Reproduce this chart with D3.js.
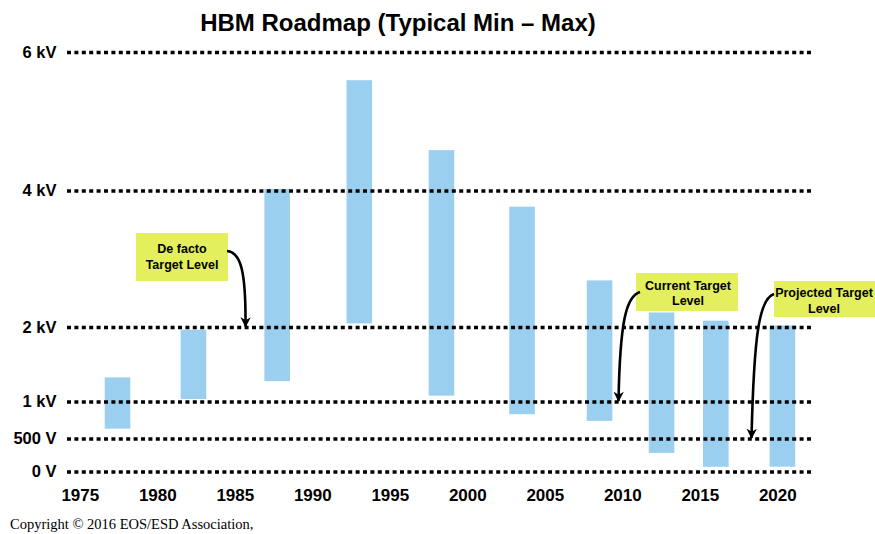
<!DOCTYPE html>
<html>
<head>
<meta charset="utf-8">
<script src="https://cdn.jsdelivr.net/npm/d3@7"></script>
<style>
  html, body { margin: 0; padding: 0; background: #fff; }
  svg { display: block; }
</style>
</head>
<body>
<div id="chart"></div>
<script>
// ---- data ----
const barYears = [1977.4, 1982.3, 1987.7, 1993.0, 1998.3, 2003.5, 2008.5, 2012.5, 2016.0, 2020.3];
const barMin   = [640, 1040, 1280, 2060, 1085, 835, 745, 290, 80, 80];
const barMax   = [1330, 1970, 4030, 5600, 4590, 3770, 2690, 2220, 2100, 2030];
const yTickValues = [0, 500, 1000, 2000, 4000, 6000];
const yTickLabels = ["0 V", "500 V", "1 kV", "2 kV", "4 kV", "6 kV"];
const xTickValues = [1975, 1980, 1985, 1990, 1995, 2000, 2005, 2010, 2015, 2020];
const titleText = "HBM Roadmap (Typical Min \u2013 Max)";
const copyrightText = "Copyright \u00a9 2016 EOS/ESD Association,";
const noteLines = [["De facto", "Target Level"], ["Current Target", "Level"], ["Projected Target", "Level"]];
const noteTargets = [2000, 1000, 500];

// ---- layout ----
const W = 875, H = 534;
const svg = d3.select("#chart").append("svg").attr("width", W).attr("height", H);

const x = d3.scaleLinear().domain([1975, 2020]).range([80.3, 777.8]);
// piecewise (non-uniform) voltage axis, as in the reference
const y = d3.scaleLinear().domain(yTickValues).range([472, 439, 402, 327.5, 191, 52.5]);

const barW = x(1.65) - x(0);

// title
svg.append("text")
  .attr("x", 398).attr("y", 31)
  .attr("text-anchor", "middle")
  .style("font-family", "Arial, 'Liberation Sans', sans-serif")
  .style("font-weight", "bold").style("font-size", "24px")
  .text(titleText);

// bars
svg.append("g").selectAll("rect")
  .data(barYears.map((yr, i) => ({yr, lo: barMin[i], hi: barMax[i]})))
  .join("rect")
  .attr("x", d => x(d.yr) - barW / 2)
  .attr("width", barW)
  .attr("y", d => y(d.hi))
  .attr("height", d => y(d.lo) - y(d.hi))
  .attr("fill", "#9acfef");

// dotted grid lines
const xMinLine = 67, xMaxLine = 812;
svg.append("g").selectAll("line")
  .data(yTickValues)
  .join("line")
  .attr("x1", xMinLine).attr("x2", xMaxLine)
  .attr("y1", d => y(d)).attr("y2", d => y(d))
  .attr("stroke", "#000").attr("stroke-width", 3.6)
  .attr("stroke-dasharray", "4,3.4");

// y labels
svg.append("g").selectAll("text")
  .data(yTickValues)
  .join("text")
  .attr("x", 56.5)
  .attr("y", d => y(d) + 5)
  .attr("text-anchor", "end")
  .style("font-family", "Arial, 'Liberation Sans', sans-serif")
  .style("font-weight", "bold").style("font-size", "16.5px")
  .text((d, i) => yTickLabels[i]);

// x labels
svg.append("g").selectAll("text")
  .data(xTickValues)
  .join("text")
  .attr("x", d => x(d))
  .attr("y", 501)
  .attr("text-anchor", "middle")
  .style("font-family", "Arial, 'Liberation Sans', sans-serif")
  .style("font-weight", "bold").style("font-size", "17px")
  .text(d => d);

// arrow marker (tip along the path direction)
const defs = svg.append("defs");
defs.append("marker")
  .attr("id", "ah").attr("viewBox", "0 0 10 10")
  .attr("refX", 9).attr("refY", 5)
  .attr("markerWidth", 4).attr("markerHeight", 4)
  .attr("orient", "auto")
  .attr("markerUnits", "strokeWidth")
  .append("path").attr("d", "M0,0 L10,5 L0,10 L3,5 Z").attr("fill", "#000");

// annotation boxes
const boxes = [
  {x0: 136, y0: 233, w: 92, h: 48, cx: 182, lines: noteLines[0], base: [253, 269],
   path: t => `M227,251 C241,252 246,272 245.5,${t - 1}`},
  {x0: 636, y0: 273, w: 102, h: 38, cx: 688, lines: noteLines[1], base: [289.5, 304.5],
   path: t => `M640,292 C626,296 620,322 618.5,${t - 1}`},
  {x0: 774, y0: 281, w: 110, h: 36, cx: 824, lines: noteLines[2], base: [297, 313],
   path: t => `M774,294 C759,299 754,335 751.5,${t - 1}`}
];

boxes.forEach((b, i) => {
  svg.append("rect")
    .attr("x", b.x0).attr("y", b.y0).attr("width", b.w).attr("height", b.h)
    .attr("fill", "#e3ef5c");
  b.lines.forEach((ln, j) => {
    svg.append("text")
      .attr("x", b.cx).attr("y", b.base[j])
      .attr("text-anchor", "middle")
      .style("font-family", "Arial, 'Liberation Sans', sans-serif")
      .style("font-weight", "bold").style("font-size", "12.5px")
      .text(ln);
  });
  svg.append("path")
    .attr("d", b.path(y(noteTargets[i])))
    .attr("fill", "none").attr("stroke", "#000").attr("stroke-width", 2.6)
    .attr("marker-end", "url(#ah)");
});

// copyright
svg.append("text")
  .attr("x", 10).attr("y", 529)
  .style("font-family", "'Liberation Serif', 'Times New Roman', serif")
  .style("font-size", "14.5px")
  .text(copyrightText);
</script>
</body>
</html>
